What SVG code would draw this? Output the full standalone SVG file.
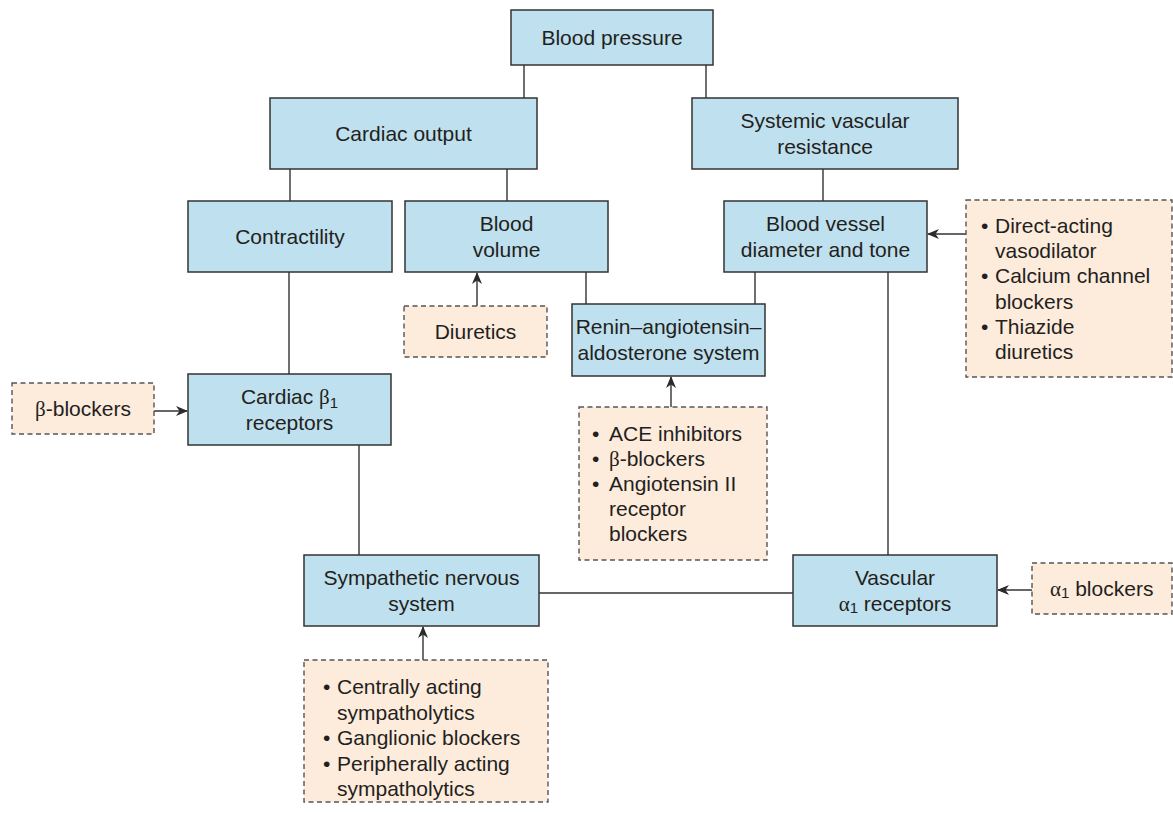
<svg xmlns="http://www.w3.org/2000/svg" width="1173" height="813" viewBox="0 0 1173 813">
  <defs>
    <marker id="arrow" markerWidth="12" markerHeight="10" refX="11" refY="5" orient="auto" markerUnits="userSpaceOnUse">
      <path d="M0,0 L12,5 L0,10 L3.5,5 Z" fill="#2b2b2b"/>
    </marker>
    <style>
      .node { fill: #bfe0ee; stroke: #333333; stroke-width: 1.5; }
      .drug { fill: #fdebdc; stroke: #555555; stroke-width: 1.4; stroke-dasharray: 5 3.5; }
      .lbl { font-family: "Liberation Sans", Arial, sans-serif; font-size: 21px; fill: #231f20; }
      .mid { text-anchor: middle; }
      .gr { font-family: "Liberation Serif", "Times New Roman", serif; }
      .sub { font-size: 15px; }
      .wire { stroke: #333333; stroke-width: 1.4; fill: none; }
      .arr { stroke: #333333; stroke-width: 1.4; fill: none; marker-end: url(#arrow); }
    </style>
  </defs>
  <rect width="1173" height="813" fill="#ffffff"/>

  <!-- connectors -->
  <g id="connectors">
    <line class="wire" x1="524" y1="65" x2="524" y2="98"/>
    <line class="wire" x1="706" y1="65" x2="706" y2="98"/>
    <line class="wire" x1="290" y1="169" x2="290" y2="201"/>
    <line class="wire" x1="507" y1="169" x2="507" y2="201"/>
    <line class="wire" x1="823" y1="169" x2="823" y2="201"/>
    <line class="wire" x1="289" y1="272" x2="289" y2="374"/>
    <line class="wire" x1="586" y1="272" x2="586" y2="304"/>
    <line class="wire" x1="755" y1="272" x2="755" y2="304"/>
    <line class="wire" x1="888" y1="272" x2="888" y2="555"/>
    <line class="wire" x1="359" y1="445" x2="359" y2="555"/>
    <line class="wire" x1="539" y1="593" x2="793" y2="593"/>
    <line class="arr" x1="477" y1="306" x2="477" y2="273"/>
    <line class="arr" x1="154" y1="411" x2="187" y2="411"/>
    <line class="arr" x1="671" y1="407" x2="671" y2="377"/>
    <line class="arr" x1="966" y1="234" x2="928" y2="234"/>
    <line class="arr" x1="1032" y1="590" x2="998" y2="590"/>
    <line class="arr" x1="423" y1="660" x2="423" y2="627"/>
  </g>

  <!-- physiological nodes -->
  <g id="blood-pressure">
    <rect class="node" x="511" y="10" width="202" height="55"/>
    <text class="lbl mid" x="612" y="45">Blood pressure</text>
  </g>
  <g id="cardiac-output">
    <rect class="node" x="270" y="98" width="267" height="71"/>
    <text class="lbl mid" x="403.5" y="141">Cardiac output</text>
  </g>
  <g id="systemic-vascular-resistance">
    <rect class="node" x="692" y="98" width="266" height="71"/>
    <text class="lbl mid" x="825" y="128">Systemic vascular</text>
    <text class="lbl mid" x="825" y="154">resistance</text>
  </g>
  <g id="contractility">
    <rect class="node" x="188" y="201" width="204" height="71"/>
    <text class="lbl mid" x="290" y="244">Contractility</text>
  </g>
  <g id="blood-volume">
    <rect class="node" x="405" y="201" width="203" height="71"/>
    <text class="lbl mid" x="506.5" y="231">Blood</text>
    <text class="lbl mid" x="506.5" y="257">volume</text>
  </g>
  <g id="vessel-diameter">
    <rect class="node" x="724" y="201" width="203" height="71"/>
    <text class="lbl mid" x="825.5" y="231">Blood vessel</text>
    <text class="lbl mid" x="825.5" y="257">diameter and tone</text>
  </g>
  <g id="raas">
    <rect class="node" x="572" y="304" width="193" height="72"/>
    <text class="lbl mid" x="668.5" y="334">Renin–angiotensin–</text>
    <text class="lbl mid" x="668.5" y="360">aldosterone system</text>
  </g>
  <g id="cardiac-beta1">
    <rect class="node" x="188" y="374" width="203" height="71"/>
    <text class="lbl mid" x="289.5" y="404">Cardiac <tspan class="gr">β</tspan><tspan class="sub" dy="4">1</tspan></text>
    <text class="lbl mid" x="289.5" y="430">receptors</text>
  </g>
  <g id="sympathetic">
    <rect class="node" x="304" y="555" width="235" height="71"/>
    <text class="lbl mid" x="421.5" y="585">Sympathetic nervous</text>
    <text class="lbl mid" x="421.5" y="611">system</text>
  </g>
  <g id="vascular-alpha1">
    <rect class="node" x="793" y="555" width="204" height="71"/>
    <text class="lbl mid" x="895" y="585">Vascular</text>
    <text class="lbl mid" x="895" y="611"><tspan class="gr">α</tspan><tspan class="sub" dy="2">1</tspan><tspan dy="-2"> receptors</tspan></text>
  </g>

  <!-- drug classes -->
  <g id="diuretics">
    <rect class="drug" x="404" y="306" width="143" height="51"/>
    <text class="lbl mid" x="475.5" y="339">Diuretics</text>
  </g>
  <g id="beta-blockers">
    <rect class="drug" x="12" y="383" width="142" height="51"/>
    <text class="lbl mid" x="83" y="416"><tspan class="gr">β</tspan>-blockers</text>
  </g>
  <g id="raas-drugs">
    <rect class="drug" x="579" y="407" width="188" height="153"/>
    <text class="lbl" x="592" y="441">•</text>
    <text class="lbl" x="609" y="441">ACE inhibitors</text>
    <text class="lbl" x="592" y="466">•</text>
    <text class="lbl" x="609" y="466"><tspan class="gr">β</tspan>-blockers</text>
    <text class="lbl" x="592" y="491">•</text>
    <text class="lbl" x="609" y="491">Angiotensin II</text>
    <text class="lbl" x="609" y="516">receptor</text>
    <text class="lbl" x="609" y="541">blockers</text>
  </g>
  <g id="vasodilator-drugs">
    <rect class="drug" x="966" y="200" width="206" height="177"/>
    <text class="lbl" x="981" y="233">•</text>
    <text class="lbl" x="995" y="233">Direct-acting</text>
    <text class="lbl" x="995" y="258">vasodilator</text>
    <text class="lbl" x="981" y="283">•</text>
    <text class="lbl" x="995" y="283">Calcium channel</text>
    <text class="lbl" x="995" y="309">blockers</text>
    <text class="lbl" x="981" y="334">•</text>
    <text class="lbl" x="995" y="334">Thiazide</text>
    <text class="lbl" x="995" y="359">diuretics</text>
  </g>
  <g id="alpha1-blockers">
    <rect class="drug" x="1032" y="563" width="140" height="51"/>
    <text class="lbl" x="1050" y="596"><tspan class="gr">α</tspan><tspan class="sub" dy="2">1</tspan><tspan dy="-2"> blockers</tspan></text>
  </g>
  <g id="sympatholytic-drugs">
    <rect class="drug" x="304" y="660" width="244" height="142"/>
    <text class="lbl" x="323" y="694">•</text>
    <text class="lbl" x="337" y="694">Centrally acting</text>
    <text class="lbl" x="337" y="720">sympatholytics</text>
    <text class="lbl" x="323" y="745">•</text>
    <text class="lbl" x="337" y="745">Ganglionic blockers</text>
    <text class="lbl" x="323" y="771">•</text>
    <text class="lbl" x="337" y="771">Peripherally acting</text>
    <text class="lbl" x="337" y="796">sympatholytics</text>
  </g>
</svg>
